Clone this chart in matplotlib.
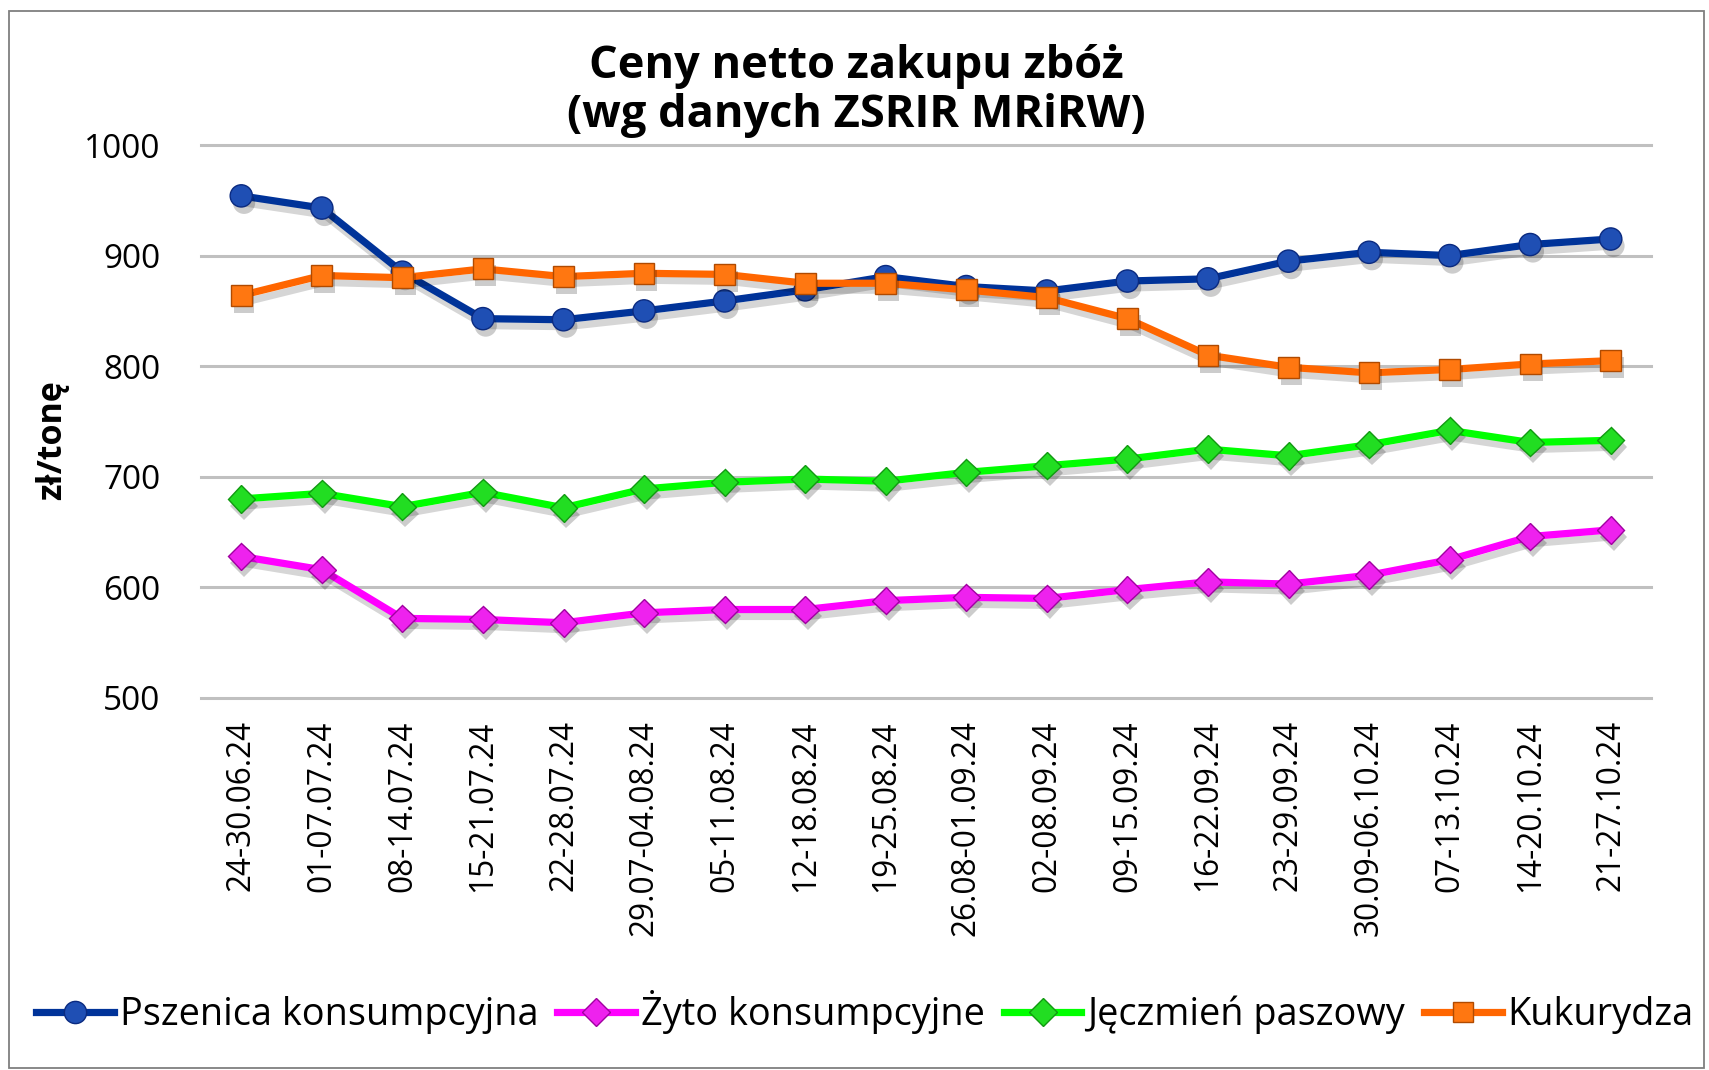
import matplotlib
matplotlib.use("Agg")
import matplotlib.pyplot as plt
import matplotlib.patheffects as pe
from matplotlib.patches import Rectangle

# ---- data ----
categories = ["24-30.06.24", "01-07.07.24", "08-14.07.24", "15-21.07.24", "22-28.07.24",
              "29.07-04.08.24", "05-11.08.24", "12-18.08.24", "19-25.08.24", "26.08-01.09.24",
              "02-08.09.24", "09-15.09.24", "16-22.09.24", "23-29.09.24", "30.09-06.10.24",
              "07-13.10.24", "14-20.10.24", "21-27.10.24"]
pszenica = [954, 943, 885, 843, 842, 850, 859, 869, 881, 872, 868, 877, 879, 895, 903, 900, 910, 915]
zyto = [628, 616, 572, 571, 568, 577, 580, 580, 588, 591, 590, 598, 605, 603, 611, 625, 646, 652]
jeczmien = [680, 685, 673, 686, 672, 689, 695, 698, 696, 704, 710, 716, 725, 719, 729, 742, 731, 733]
kukurydza = [864, 882, 880, 888, 881, 884, 883, 875, 875, 869, 862, 843, 810, 799, 794, 797, 802, 805]
series_names = ["Pszenica konsumpcyjna", "Żyto konsumpcyjne", "Jęczmień paszowy", "Kukurydza"]
yticks = [500, 600, 700, 800, 900, 1000]
title = "Ceny netto zakupu zbóż\n(wg danych ZSRIR MRiRW)"
ylabel = "zł/tonę"

plt.rcParams['font.family'] = ['Open Sans', 'DejaVu Sans']

W, H = 1709, 1070
fig = plt.figure(figsize=(W / 100, H / 100), dpi=100)
fig.patch.set_facecolor("white")
fig.add_artist(Rectangle((9 / W, 2 / H), (1704 - 9) / W, (1068 - 11) / H,
                         transform=fig.transFigure, fill=False,
                         edgecolor="#7f7f7f", linewidth=1.3))

ax = fig.add_axes([201 / W, 1 - 698 / H, (1651 - 201) / W, (698 - 145) / H])
x = list(range(len(categories)))

styles = [
    dict(data=pszenica, line="#003399", face="#1f4fb4", edge="#0a2a80", marker="o", ms=16),
    dict(data=zyto, line="#ff00ff", face="#ee22ee", edge="#a000a0", marker="D", ms=14),
    dict(data=jeczmien, line="#00ff00", face="#22dd22", edge="#119911", marker="D", ms=14),
    dict(data=kukurydza, line="#ff6600", face="#ff7711", edge="#b04a00", marker="s", ms=15),
]

handles = []
for i, (st, name) in enumerate(zip(styles, series_names)):
    z = 3 + i * 2
    ax.plot(x, st["data"], color=st["line"], lw=5.2, zorder=z, solid_capstyle="round",
            path_effects=[pe.SimpleLineShadow(offset=(2, -5), shadow_color="k", alpha=0.16),
                          pe.Normal()])
    ax.plot(x, st["data"], linestyle="none", marker=st["marker"], ms=st["ms"],
            markerfacecolor=st["face"], markeredgecolor=st["edge"], markeredgewidth=1.0,
            zorder=z + 1,
            path_effects=[pe.SimplePatchShadow(offset=(2, -5), shadow_rgbFace="k", alpha=0.2),
                          pe.Normal()])
    h, = ax.plot([], [], color=st["line"], lw=5.2, marker=st["marker"], ms=st["ms"],
                 markerfacecolor=st["face"], markeredgecolor=st["edge"], markeredgewidth=1.0)
    handles.append(h)

ax.set_xlim(-0.5, len(categories) - 0.5)
ax.set_ylim(500, 1000)
ax.set_yticks(yticks)
ax.set_xticks(x)
ax.set_xticklabels(categories, rotation=90, fontsize=22.8)
ax.tick_params(axis="x", length=0, pad=16)
ax.tick_params(axis="y", length=0, pad=29, labelsize=24)
for s in ax.spines.values():
    s.set_visible(False)
ax.yaxis.grid(True, color="#c0c0c0", linewidth=2.2)
ax.set_axisbelow(True)
for gl in ax.get_ygridlines():
    gl.set_clip_on(False)

fig.text(52 / W, 1 - 440 / H, ylabel, rotation=90, ha="center", va="center",
         fontsize=24.5, fontweight="bold")
fig.text(856 / W, 1 - 91 / H, title, ha="center", va="center", fontsize=32.5,
         fontweight="bold", linespacing=1.1)

fig.legend(handles, series_names, loc="center", bbox_to_anchor=(865 / W, 1 - 1012 / H),
           ncol=4, frameon=False, fontsize=27.3, handlelength=2.05, handletextpad=0.15,
           columnspacing=0.5, borderaxespad=0)

fig.savefig("out.png", dpi=100, facecolor="white")
